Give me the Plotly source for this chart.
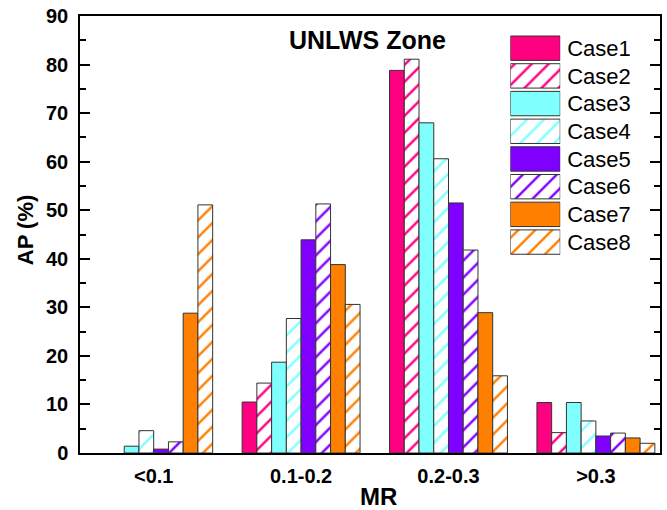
import plotly.graph_objects as go

# MR bins on the x axis
categories = ["<0.1", "0.1-0.2", "0.2-0.3", ">0.3"]

# AP (%) per case, one value per MR bin (None = no bar in that bin)
case1 = [None, 10.5, 78.8, 10.4]
case2 = [None, 14.4, 81.1, 4.2]
case3 = [1.4, 18.7, 68.0, 10.4]
case4 = [4.6, 27.7, 60.6, 6.6]
case5 = [0.8, 43.9, 51.5, 3.5]
case6 = [2.3, 51.3, 41.8, 4.1]
case7 = [28.8, 38.8, 28.9, 3.1]
case8 = [51.1, 30.6, 15.9, 2.0]

case_names = ["Case1", "Case2", "Case3", "Case4", "Case5", "Case6", "Case7", "Case8"]
case_values = [case1, case2, case3, case4, case5, case6, case7, case8]
case_colors = ["#FF0080", "#FF0080", "#80FFFF", "#80FFFF",
               "#8000FF", "#8000FF", "#FF8000", "#FF8000"]
case_hatched = [False, True, False, True, False, True, False, True]

FONT = "Liberation Sans, Arial, sans-serif"
EDGE = "#333333"
HATCH_SIZE = 12
HATCH_SOLIDITY = 0.2


def pattern_for(color, hatched):
    if hatched:
        return dict(shape="/", fgcolor=color, bgcolor="white",
                    size=HATCH_SIZE, solidity=HATCH_SOLIDITY, fillmode="replace")
    return dict(shape="")


fig = go.Figure()

for name, vals, color, hatched in zip(case_names, case_values, case_colors, case_hatched):
    fig.add_trace(go.Bar(
        x=categories, y=vals, name=name,
        marker=dict(color=color, line=dict(color=EDGE, width=1),
                    pattern=pattern_for(color, hatched)),
        showlegend=False, xaxis="x", yaxis="y",
    ))

# Legend block drawn as horizontal swatch bars on a small side axis
fig.add_trace(go.Bar(
    y=case_names, x=[1] * len(case_names), orientation="h",
    width=0.88,
    marker=dict(
        color=case_colors,
        line=dict(color=EDGE, width=1),
        pattern=dict(
            shape=["/" if h else "" for h in case_hatched],
            fgcolor=case_colors,
            bgcolor=["white" if h else c for h, c in zip(case_hatched, case_colors)],
            size=HATCH_SIZE, solidity=HATCH_SOLIDITY, fillmode="replace",
        ),
    ),
    showlegend=False, xaxis="x2", yaxis="y2", hoverinfo="skip",
))

fig.update_layout(
    width=667, height=510,
    margin=dict(l=80, r=5, t=16, b=57),
    paper_bgcolor="white", plot_bgcolor="white",
    barmode="group", bargap=0.2, bargroupgap=0,
    font=dict(family=FONT, color="black"),
    xaxis=dict(
        type="category", categoryorder="array", categoryarray=categories,
        range=[-0.5, 3.435],
        showline=True, linecolor="black", linewidth=1.5, mirror=True,
        ticks="", showgrid=False, zeroline=False,
        tickfont=dict(size=20, family=FONT, weight="bold"),
        ticklabelstandoff=4,
    ),
    yaxis=dict(
        range=[0, 90], dtick=10, tick0=0,
        showline=True, linecolor="black", linewidth=1.5, mirror="ticks",
        ticks="inside", ticklen=10, tickwidth=1.5, tickcolor="black",
        minor=dict(ticks="inside", ticklen=6, tickwidth=1.5, dtick=5, tickcolor="black", showgrid=False),
        showgrid=False, zeroline=False,
        tickfont=dict(size=20, family=FONT, weight="bold"),
        ticklabelstandoff=6,
    ),
    xaxis2=dict(domain=[0.742, 0.828], anchor="y2", range=[0, 1],
                visible=False, fixedrange=True),
    yaxis2=dict(domain=[0.451, 0.958], anchor="x2", range=[7.5, -0.5],
                side="right", showline=False, showgrid=False, zeroline=False,
                ticks="", ticklabelstandoff=6,
                tickfont=dict(size=22, family=FONT, color="black"),
                fixedrange=True),
    annotations=[
        dict(text="UNLWS Zone", xref="paper", yref="paper",
             x=(368.5 - 80) / 582, y=(453 - 40) / 437, xanchor="center", yanchor="middle",
             showarrow=False, font=dict(size=25, family=FONT, weight="bold")),
        dict(text="MR", xref="paper", yref="paper",
             x=(379.5 - 80) / 582, y=(453 - 496) / 437, xanchor="center", yanchor="middle",
             showarrow=False, font=dict(size=24, family=FONT, weight="bold")),
        dict(text="AP (%)", xref="paper", yref="paper", textangle=-90,
             x=(25 - 80) / 582, y=(453 - 230) / 437, xanchor="center", yanchor="middle",
             showarrow=False, font=dict(size=22, family=FONT, weight="bold")),
    ],
)

fig.write_html("out.html")
